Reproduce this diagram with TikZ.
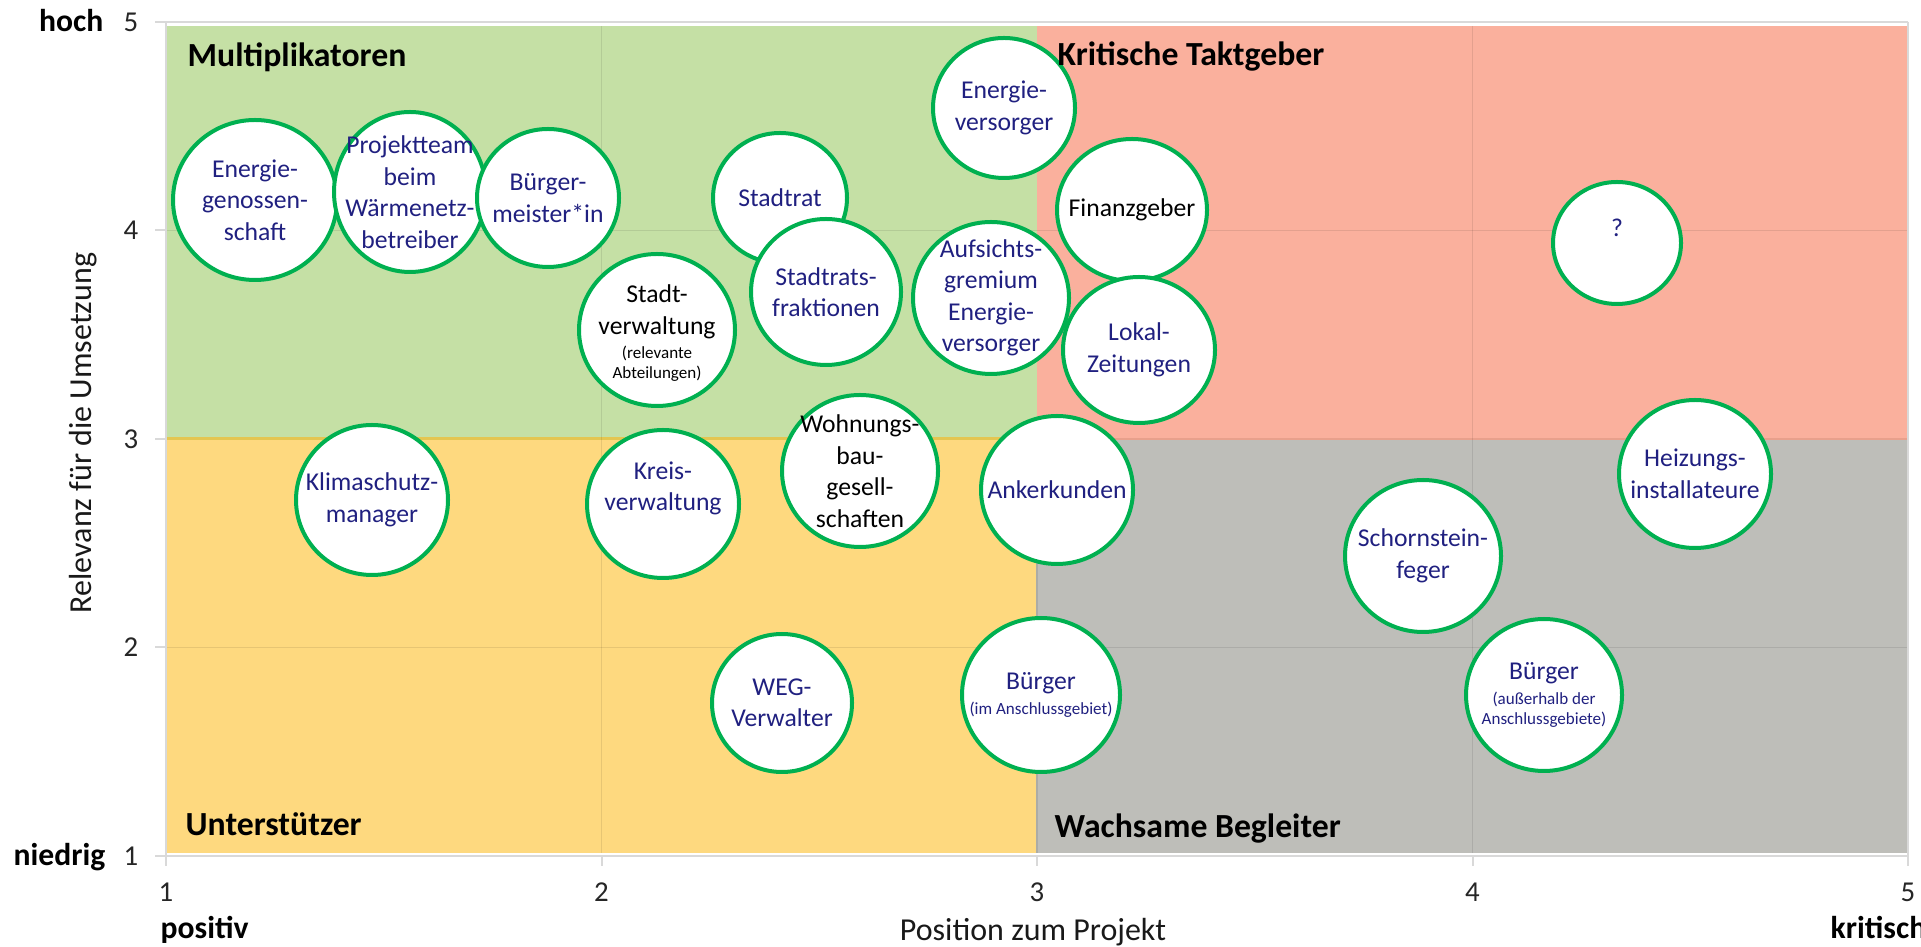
\documentclass[tikz,border=0pt]{standalone}
\usepackage{fontspec}
\setmainfont{Carlito}
\usetikzlibrary{shapes.geometric,calc}
\definecolor{qgreen}{RGB}{197,224,165}
\definecolor{qred}{RGB}{250,176,157}
\definecolor{qyellow}{RGB}{254,217,127}
\definecolor{qgray}{RGB}{190,190,185}
\definecolor{ring}{RGB}{0,176,80}
\definecolor{navy}{RGB}{32,32,128}
\definecolor{axisgray}{RGB}{217,217,217}
\newcommand\smtxt[1]{{\fontsize{4.85pt}{5.8pt}\selectfont #1}}
\begin{document}
\begin{tikzpicture}[x=0.1mm,y=-0.1mm,
  bubble/.style={ellipse,draw=ring,line width=0.4mm,fill=white,inner sep=0pt},
  btext/.style={align=center,inner sep=0pt,text=navy,font=\fontsize{7.3pt}{8.96pt}\selectfont},
  btextk/.style={btext,text=black},
  ticklab/.style={inner sep=0pt,text=black!85,font=\fontsize{8.2pt}{9pt}\selectfont},
  axtitle/.style={inner sep=0pt,text=black!90,font=\fontsize{9.1pt}{11pt}\selectfont},
  endlab/.style={inner sep=0pt,font=\bfseries\fontsize{9pt}{11pt}\selectfont},
  quadlab/.style={inner sep=0pt,font=\bfseries\fontsize{9.6pt}{11pt}\selectfont},
  gridl/.style={black,opacity=0.09,line width=0.15mm},
  axisl/.style={axisgray,line width=0.2mm}]
\useasboundingbox (0,0) rectangle (1921,947);
\fill[white] (0,0) rectangle (1921,947);
% quadrant fills
\fill[qgreen] (167,26) rectangle (1037,439);
\fill[qred] (1037,26) rectangle (1908,439);
\fill[qyellow] (167,439) rectangle (1037,853);
\fill[qgray] (1037,439) rectangle (1908,853);
\draw[line width=0.3mm,color={rgb,255:red,228;green,198;blue,80}] (167,439) -- (1037,439);
\draw[line width=0.25mm,color={rgb,255:red,232;green,160;blue,140}] (1037,439) -- (1908,439);
\draw[line width=0.2mm,color={rgb,255:red,172;green,172;blue,165}] (1037,439) -- (1037,853);
% grid lines
\draw[gridl] (601.5,26) -- (601.5,853);
\draw[gridl] (1472.5,26) -- (1472.5,853);
\draw[gridl] (167,230.5) -- (1908,230.5);
\draw[gridl] (167,647.5) -- (1908,647.5);
% axes and frame
\draw[axisl] (166,22) -- (1908,22);
\draw[axisl] (1908,22) -- (1908,866);
\draw[axisl] (166,22) -- (166,856) -- (1908,856);
\foreach \yy in {22,230.5,439,647.5,856} \draw[axisl] (155,\yy) -- (166,\yy);
\foreach \xx in {166,601.5,1037,1472.5} \draw[axisl] (\xx,856) -- (\xx,866);
% tick labels
\node[ticklab,anchor=east] (y5) at (139,22) {5};
\node[ticklab,anchor=east] (y4) at (139,230.5) {4};
\node[ticklab,anchor=east] (y3) at (139,439) {3};
\node[ticklab,anchor=east] (y2) at (139,647.5) {2};
\node[ticklab,anchor=east] (y1) at (139,856) {1};
\node[ticklab,anchor=base] (x1) at (166,902) {1};
\node[ticklab,anchor=base] (x2) at (601.5,902) {2};
\node[ticklab,anchor=base] (x3) at (1037,902) {3};
\node[ticklab,anchor=base] (x4) at (1472.5,902) {4};
\node[ticklab,anchor=base] (x5) at (1908,902) {5};
% axis end labels and titles
\node[endlab,anchor=base east] (hoch) at (104,32) {hoch};
\node[endlab,anchor=base east] (niedrig) at (106,866) {niedrig};
\node[endlab,anchor=base west] (positiv) at (160,938) {positiv};
\node[endlab,anchor=base west] (kritisch) at (1830,938) {kritisch};
\node[axtitle,anchor=base] (xtitle) at (1033,941) {Position zum Projekt};
\node[axtitle,anchor=base,rotate=90] (ytitle) at (91,433) {Relevanz für die Umsetzung};
% bubbles
\node[bubble,minimum width=16.4mm,minimum height=16mm] (egen) at (255,200) {};
\node[btext] (egen-t) at (egen) {Energie-\\genossen-\\schaft};
\node[bubble,minimum width=15.2mm,minimum height=16mm] (proj) at (410,192) {};
\node[btext] (proj-t) at (proj) {Projektteam\\beim\\Wärmenetz-\\betreiber};
\node[bubble,minimum width=14.2mm,minimum height=13.8mm] (bgm) at (548,198) {};
\node[btext] (bgm-t) at (bgm) {Bürger-\\meister*in};
\node[bubble,minimum width=14.2mm,minimum height=14mm] (ev) at (1004,108) {};
\node[btext] (ev-t) at (ev) {Energie-\\versorger};
\node[bubble,minimum width=13.4mm,minimum height=13mm] (srat) at (780,198) {};
\node[btext] (srat-t) at (srat) {Stadtrat};
\node[bubble,minimum width=15mm,minimum height=14.6mm] (srf) at (826,292) {};
\node[btext] (srf-t) at (srf) {Stadtrats-\\fraktionen};
\node[bubble,minimum width=15.6mm,minimum height=15.2mm] (sv) at (657,330) {};
\node[btextk] (sv-t) at ($(sv)+(0,3)$) {Stadt-\\verwaltung\\[-2.2pt]\smtxt{(relevante}\\[-3.3pt]\smtxt{Abteilungen)}};
\node[bubble,minimum width=15.6mm,minimum height=15.2mm] (auf) at (991,298) {};
\node[btext] (auf-t) at (auf) {Aufsichts-\\gremium\\Energie-\\versorger};
\node[bubble,minimum width=15mm,minimum height=14.2mm] (fin) at (1132,210) {};
\node[btextk] (fin-t) at (fin) {Finanzgeber};
\node[bubble,minimum width=15.2mm,minimum height=14.6mm] (lok) at (1139,350) {};
\node[btext] (lok-t) at (lok) {Lokal-\\Zeitungen};
\node[bubble,minimum width=12.8mm,minimum height=12.2mm] (q) at (1617,243) {};
\node[btext] (q-t) at ($(q)+(0,-15.5)$) {?};
\node[bubble,minimum width=15.2mm,minimum height=15mm] (klima) at (372,500) {};
\node[btext] (klima-t) at (klima) {Klimaschutz-\\manager};
\node[bubble,minimum width=15.2mm,minimum height=14.8mm] (kreis) at (663,504) {};
\node[btext] (kreis-t) at ($(kreis)+(0,-15.5)$) {Kreis-\\verwaltung};
\node[bubble,minimum width=15.6mm,minimum height=15.2mm] (wbg) at (860,471) {};
\node[btextk] (wbg-t) at (wbg) {Wohnungs-\\bau-\\gesell-\\schaften};
\node[bubble,minimum width=15.2mm,minimum height=14.8mm] (ank) at (1057,490) {};
\node[btext] (ank-t) at (ank) {Ankerkunden};
\node[bubble,minimum width=15.2mm,minimum height=14.8mm] (heiz) at (1695,474) {};
\node[btext] (heiz-t) at (heiz) {Heizungs-\\installateure};
\node[bubble,minimum width=15.6mm,minimum height=15.2mm] (schorn) at (1423,556) {};
\node[btext] (schorn-t) at (schorn) {Schornstein-\\feger};
\node[bubble,minimum width=14mm,minimum height=13.8mm] (weg) at (782,703) {};
\node[btext] (weg-t) at (weg) {WEG-\\Verwalter};
\node[bubble,minimum width=15.8mm,minimum height=15.4mm] (b1) at (1041,695) {};
\node[btext] (b1-t) at (b1) {Bürger\\[-1.85pt]\smtxt{(im Anschlussgebiet)}};
\node[bubble,minimum width=15.6mm,minimum height=15.2mm] (b2) at (1544,695) {};
\node[btext] (b2-t) at (b2) {Bürger\\[-1.85pt]\smtxt{(außerhalb der}\\[-3pt]\smtxt{Anschlussgebiete)}};
% quadrant labels
\node[quadlab,anchor=base west] (qmult) at (187,67) {Multiplikatoren};
\node[quadlab,anchor=base west] (qkrit) at (1057,66) {Kritische Taktgeber};
\node[quadlab,anchor=base west] (qunt) at (185,835) {Unterstützer};
\node[quadlab,anchor=base west] (qwach) at (1054,838) {Wachsame Begleiter};
\end{tikzpicture}
\end{document}
